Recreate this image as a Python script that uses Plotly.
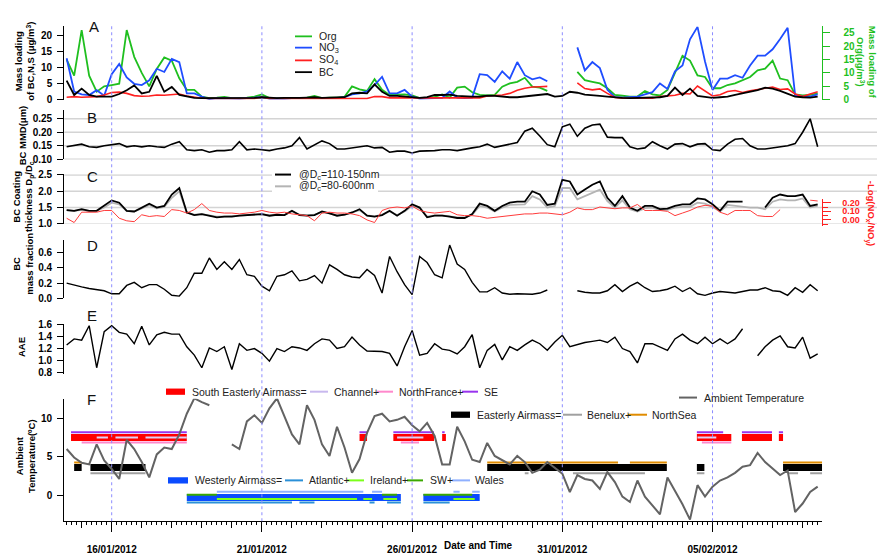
import pandas as pd
import plotly.graph_objects as go

# ---------------- data (6-hourly) ----------------
times = pd.date_range("2012-01-14 12:00", periods=101, freq="6h")

org = [15, 9, 26, 9, 3, 5, 5.5, 6, 26, 16,
       10, 5, 11.5, 15.8, 14.6, 8, 3.7, 3.7, 1.2, 0.6,
       0.8, 1.1, 0.6, 0.6, 0.8, 1.2, 2, 0.6, 0.6, 0.6,
       0.6, 0.8, 0.8, 1.4, 0.6, 0.8, 0.8, 1.1, 5, 3.9,
       3.3, 7.7, 3.7, 1.8, 1.8, 2, 1.6, 0.6, 0.6, 1.1,
       2, 0.8, 4.5, 4.9, 2.8, 1.8, 1.6, 1.8, 4.9, 6.1,
       6.7, 8.2, 4.9, 4.5, 3.3, None, None, None, 10.4, 7.3,
       6.7, 6.1, 4.3, 1.8, 1.5, 1.2, 1.2, 3.3, 2, 1.6,
       3.7, 10.4, 16.4, 14.6, 9.1, 8.5, 4.3, 4.3, 5.5, 6.1,
       7.3, 8.5, 11, 11.6, 14.6, 7.9, 7.3, 2, 1.6, 1.8,
       2.4]
no3 = [13, 2.6, 1.7, 1.5, 3, 1.3, 8, 11.2, 7, 5,
       4.6, 6.1, 9.7, 8.7, 12.8, 11.8, 2, 2, 1, 0.2,
       0.5, 0.4, 0.3, 0.4, 0.5, 0.6, 0.8, 0.4, 0.3, 0.4,
       0.5, 0.4, 0.5, 0.6, 0.5, 0.5, 0.5, 0.8, 1.7, 2,
       2.6, 4.6, 7.2, 2, 2, 3.1, 1, 0.4, 0.4, 0.6,
       0.6, 2.6, 0.7, 0.5, 0.7, 8, 7.7, 5.6, 8.9, 6.6,
       11.8, 7.7, 6.4, 7, 5.8, None, None, None, 16.4, 9.2,
       11.8, 9.9, 3.1, 0.8, 0.7, 0.9, 1, 1.7, 2.4, 5.1,
       3.4, 8.9, 10.7, 18.9, 22.8, 12, 3.1, 6.6, 6.6, 7.7,
       6.9, 10.7, 13.8, 13.8, 15.8, 19, 22.5, 1.5, 1, 1,
       1.7]
so4 = [0.8, 1.0, 0.8, 1.0, 1.0, 1.5, 2.3, 2.4, 2.0, 1.3,
       1.1, 1.2, 1.5, 1.4, 1.6, 1.8, 1.2, 0.8, 0.5, 0.4,
       0.4, 0.4, 0.4, 0.4, 0.4, 0.4, 0.8, 0.4, 0.4, 0.4,
       0.4, 0.4, 0.4, 0.4, 0.4, 0.4, 0.4, 0.4, 0.4, 0.4,
       0.4, 1.0, 1.0, 0.6, 0.6, 0.4, 0.4, 0.4, 0.4, 0.4,
       0.4, 0.4, 0.4, 0.4, 0.4, 0.6, 1.2, 1.4, 1.5, 2.0,
       3.0, 3.6, 4.0, 4.1, 4.2, None, None, None, 5.3, 3.5,
       3.1, 3.4, 2.0, 0.7, 0.5, 0.5, 0.5, 0.4, 0.5, 1.0,
       1.2, 1.4, 2.0, 1.8, 4.3, 2.8, 1.2, 1.6, 2.6, 2.9,
       2.3, 2.8, 3.2, 3.6, 4.0, 3.2, 3.4, 1.8, 1.0, 1.8,
       2.5]
bc = [6, 1.5, 3.5, 1.5, 1.0, 1.0, 1.0, 1.8, 3.0, 4.5,
      2.0, 2.5, 7.5, 2.5, 4.0, 1.5, 1.0, 0.6, 0.5, 0.5,
      0.7, 0.6, 0.5, 0.6, 0.7, 0.6, 0.8, 0.6, 0.5, 0.6,
      0.5, 0.6, 0.7, 0.8, 0.6, 0.6, 0.8, 0.8, 2.0, 2.2,
      2.0, 4.8, 2.5, 1.2, 1.2, 1.0, 0.7, 0.6, 0.8, 1.5,
      1.5, 1.6, 1.2, 1.0, 1.0, 1.0, 1.3, 1.2, 0.9, 0.8,
      0.8, 1.0, 1.3, 1.6, 1.8, 1.0, 1.2, 2.5, 2.2, 1.6,
      1.3, 1.2, 1.0, 0.7, 0.6, 0.5, 0.6, 0.6, 0.6, 0.8,
      1.2, 3.8, 1.5, 3.5, 1.2, 0.8, 0.6, 0.8, 1.0, 1.5,
      2.0, 2.5, 3.0, 3.8, 3.5, 2.8, 1.8, 1.0, 0.8, 0.7,
      1.0]
bc_mmd = [0.146, 0.150, 0.156, 0.146, 0.144, 0.150, 0.154, 0.158, 0.146, 0.150,
          0.146, 0.150, 0.146, 0.144, 0.156, 0.165, 0.135, 0.132, 0.135, 0.126,
          0.132, 0.132, 0.135, 0.165, 0.135, 0.138, 0.135, 0.132, 0.138, 0.142,
          0.150, 0.180, 0.138, 0.154, 0.168, 0.158, 0.138, 0.138, 0.142, 0.144,
          0.150, 0.142, 0.144, 0.126, 0.130, 0.130, 0.123, 0.130, 0.130, 0.132,
          0.135, 0.135, 0.132, 0.138, 0.142, 0.146, 0.156, 0.144, 0.150, 0.158,
          0.162, 0.204, 0.215, 0.186, 0.154, 0.146, 0.220, 0.230, 0.185, 0.215,
          0.227, 0.230, 0.182, 0.180, 0.180, 0.146, 0.138, 0.142, 0.165, 0.150,
          0.138, 0.156, 0.158, 0.146, 0.156, 0.158, 0.135, 0.132, 0.156, 0.174,
          0.177, 0.150, 0.138, 0.138, 0.142, 0.146, 0.150, 0.158, 0.200, 0.250,
          0.146]
coat_110_150 = [1.42, 1.40, 1.45, 1.40, 1.40, 1.55, 1.72, 1.65, 1.40, 1.38,
                1.50, 1.62, 1.50, 1.55, 1.90, 2.10, 1.35, 1.27, 1.30, 1.25,
                1.20, 1.22, 1.22, 1.25, 1.27, 1.28, 1.30, 1.25, 1.28, 1.27,
                1.40, 1.27, 1.25, 1.27, 1.38, 1.32, 1.25, 1.28, 1.35, 1.45,
                1.25, 1.22, 1.27, 1.40, 1.25, 1.40, 1.60, 1.50, 1.20, 1.25,
                1.25, 1.22, 1.18, 1.18, 1.30, 1.62, 1.55, 1.40, 1.55, 1.65,
                1.68, 1.68, 2.00, 1.90, 1.58, 1.62, 2.35, 2.30, 1.90, 2.05,
                2.20, 2.30, 1.80, 1.55, 1.85, 1.50, 1.40, 1.55, 1.55, 1.45,
                1.47, 1.55, 1.60, 1.60, 1.78, 1.75, 1.60, 1.40, 1.68, 1.68,
                1.68, None, None, 1.50, 1.80, 1.90, 1.85, 1.85, 1.90, 1.55,
                1.60]
coat_80_600 = [1.42, 1.40, 1.43, 1.40, 1.40, 1.50, 1.65, 1.60, 1.40, 1.38,
               1.47, 1.57, 1.48, 1.52, 1.80, 2.00, 1.35, 1.28, 1.30, 1.25,
               1.22, 1.23, 1.23, 1.25, 1.27, 1.28, 1.30, 1.26, 1.28, 1.27,
               1.38, 1.28, 1.26, 1.28, 1.36, 1.32, 1.26, 1.28, 1.34, 1.42,
               1.26, 1.23, 1.28, 1.38, 1.27, 1.38, 1.55, 1.48, 1.22, 1.26,
               1.26, 1.23, 1.20, 1.20, 1.28, 1.55, 1.50, 1.38, 1.50, 1.58,
               1.60, 1.60, 1.85, 1.75, 1.50, 1.55, 2.10, 2.10, 1.75, 1.85,
               1.95, 2.05, 1.70, 1.50, 1.72, 1.45, 1.38, 1.48, 1.50, 1.42,
               1.43, 1.50, 1.52, 1.52, 1.65, 1.62, 1.52, 1.38, 1.58, 1.55,
               1.52, 1.50, 1.50, 1.45, 1.68, 1.75, 1.72, 1.72, 1.78, 1.50,
               1.55]
neg_log_nox_noy = [0.02, -0.03, 0.09, 0.09, 0.09, 0.11, 0.11, 0.02, -0.01, -0.02,
                   0.06, 0.04, 0.05, 0.04, 0.12, 0.11, 0.08, 0.12, 0.19, 0.11,
                   0.09, 0.08, 0.08, 0.07, 0.08, 0.09, 0.11, 0.09, 0.08, 0.09,
                   0.07, 0.06, 0.05, -0.01, 0.08, 0.09, 0.08, 0.08, 0.07, 0.05,
                   0.00, -0.03, 0.11, 0.14, 0.15, 0.14, 0.16, 0.11, 0.09, 0.08,
                   0.09, 0.10, 0.06, 0.05, 0.05, 0.04, 0.02, 0.03, 0.04, 0.05,
                   0.06, 0.07, 0.07, 0.08, 0.08, 0.07, 0.06, 0.09, 0.14, 0.12,
                   0.12, 0.15, 0.14, 0.13, 0.14, 0.14, 0.18, 0.11, 0.11, 0.11,
                   0.10, 0.05, 0.08, 0.11, 0.15, 0.17, 0.16, 0.09, 0.06, 0.11,
                   0.11, 0.11, 0.05, 0.04, 0.04, 0.12, None, None, None, 0.23,
                   0.22]
bc_mass_fraction = [0.20, 0.17, 0.15, 0.13, 0.11, 0.10, 0.06, 0.06, 0.17, 0.21,
                    0.14, 0.18, 0.18, 0.12, 0.04, 0.03, 0.14, 0.33, 0.33, 0.53,
                    0.38, 0.48, 0.38, 0.51, 0.31, 0.29, 0.16, 0.10, 0.29, 0.31,
                    0.36, 0.23, 0.25, 0.30, 0.20, 0.44, 0.38, 0.31, 0.28, 0.27,
                    0.38, 0.30, 0.07, 0.55, 0.35, 0.18, 0.05, 0.55, 0.47, 0.31,
                    0.27, 0.70, 0.45, 0.38, 0.21, 0.085, 0.085, 0.14, 0.07, 0.055,
                    0.06, 0.06, 0.055, 0.07, 0.11, None, None, None, 0.10, 0.08,
                    0.07, 0.07, 0.10, 0.18, 0.09, 0.16, 0.21, 0.14, 0.09, 0.10,
                    0.12, 0.16, 0.09, 0.14, 0.06, 0.04, 0.07, 0.09, 0.08, 0.07,
                    0.09, 0.11, 0.11, 0.14, 0.10, 0.09, 0.04, 0.14, 0.08, 0.18,
                    0.10]
aae = [1.26, 1.36, 1.34, 1.58, 0.88, 1.48, 1.58, 1.47, 1.44, 1.28,
       1.57, 1.26, 1.43, 1.47, 1.44, 1.44, 1.23, 1.09, 0.88, 1.21,
       1.15, 1.23, 0.85, 1.28, 1.17, 1.20, 1.12, 0.99, 1.20, 1.15,
       1.23, 1.21, 1.17, 1.28, 1.36, 1.34, 1.20, 1.23, 1.39, 1.26,
       1.16, 1.16, 1.15, 1.12, 0.91, 1.23, 1.50, 1.09, 1.12, 1.28,
       1.19, 1.17, 1.11, 1.23, 1.43, 0.88, 1.17, 1.27, 1.01, 1.23,
       1.17, 1.26, 1.34, 1.28, 1.17, 1.31, 1.42, 1.23, 1.27, 1.30,
       1.32, 1.34, 1.30, 1.39, 1.20, 1.15, 0.96, 1.28, 1.28, 1.23,
       1.17, 1.36, 1.44, 1.34, 1.28, 1.39, 1.28, 1.36, 1.28, 1.36,
       1.53, None, 1.08, 1.23, 1.34, 1.41, 1.23, 1.21, 1.39, 1.04,
       1.11]
ambient_temp = [6.0, 4.9, 4.2, 4.0, 6.6, 4.5, 3.4, 2.1, 7.2, 6.0,
                4.3, 2.3, 5.3, 6.2, 6.0, 7.9, 10.6, 12.6, 12.1, 11.7,
                None, None, 6.6, 6.0, 9.6, 10.4, 9.4, 11.3, 12.6, 10.2,
                7.9, 6.6, 11.7, 9.8, 6.6, 5.1, 8.9, 6.2, 2.9, 4.7,
                8.1, 10.3, 10.6, 9.6, 9.8, 10.2, 9.1, 8.3, 9.4, 7.7,
                4.0, 4.0, 8.9, 7.0, 4.6, 4.3, 6.8, 5.1, 4.5, 4.0,
                5.1, 4.3, 2.9, 3.3, 4.3, 3.6, 2.8, 0.4, 2.6, 2.1,
                1.9, 0.8, 3.0, 1.7, -0.2, -0.9, 1.9, -0.2, -1.3, -2.5,
                2.3, 0.6, -1.2, -3.2, 1.3, -0.2, 1.1, 1.9, 2.3, 2.9,
                3.7, 3.9, 5.5, 4.3, 3.4, 2.6, 3.2, -2.2, -1.1, 0.4,
                1.1]

# air-mass classification periods (start, end)
se_airmass = [("2012-01-14 15:30", "2012-01-18 12:00"), ("2012-01-24 06:00", "2012-01-24 12:00"),
              ("2012-01-25 09:00", "2012-01-26 17:30"), ("2012-01-27 00:00", "2012-01-27 03:00"),
              ("2012-02-04 11:30", "2012-02-05 15:00"), ("2012-02-05 23:30", "2012-02-06 23:30"),
              ("2012-02-07 05:00", "2012-02-07 08:20")]
se_sector = [("2012-01-14 15:30", "2012-01-18 12:00"), ("2012-01-24 06:00", "2012-01-24 12:00"),
             ("2012-01-25 09:00", "2012-01-26 17:30"), ("2012-01-27 00:00", "2012-01-27 02:00"),
             ("2012-02-04 11:30", "2012-02-05 08:30"), ("2012-02-05 23:30", "2012-02-06 23:30"),
             ("2012-02-07 05:00", "2012-02-07 08:20")]
channel = [("2012-01-15 12:00", "2012-01-15 21:00"), ("2012-01-16 03:00", "2012-01-16 21:00"),
           ("2012-01-17 03:00", "2012-01-18 12:00"), ("2012-01-25 12:00", "2012-01-26 09:00"),
           ("2012-02-04 12:00", "2012-02-05 03:00")]
north_france = [("2012-01-15 00:00", "2012-01-18 12:00"), ("2012-01-25 15:00", "2012-01-26 05:30"),
                ("2012-02-04 15:30", "2012-02-05 15:00")]
easterly = [("2012-01-14 18:00", "2012-01-15 00:00"), ("2012-01-15 07:00", "2012-01-17 03:00"),
            ("2012-01-28 12:00", "2012-02-03 11:30"), ("2012-02-04 11:30", "2012-02-04 17:30"),
            ("2012-02-07 08:20", "2012-02-08 15:30")]
north_sea = [("2012-01-14 18:00", "2012-01-15 00:00"), ("2012-01-28 12:00", "2012-02-01 20:30"),
             ("2012-02-02 06:00", "2012-02-03 11:30"), ("2012-02-07 08:20", "2012-02-08 15:30")]
benelux = [("2012-01-15 07:00", "2012-01-17 03:00"), ("2012-01-29 18:00", "2012-01-29 21:00"),
           ("2012-01-31 08:30", "2012-02-02 18:00"), ("2012-02-04 11:30", "2012-02-04 17:30"),
           ("2012-02-07 12:20", "2012-02-07 20:20"), ("2012-02-08 06:00", "2012-02-08 15:30")]
westerly = [("2012-01-18 12:00", "2012-01-25 15:00"), ("2012-01-26 09:00", "2012-01-28 06:00")]
wales = [("2012-01-19 12:00", "2012-01-24 09:00"), ("2012-01-24 16:00", "2012-01-25 00:00"),
         ("2012-01-27 09:00", "2012-01-27 14:00"), ("2012-01-28 00:00", "2012-01-28 06:00")]
ireland = [("2012-01-19 12:00", "2012-01-24 04:00"), ("2012-01-24 09:00", "2012-01-24 16:00"),
           ("2012-01-25 01:00", "2012-01-25 12:00"), ("2012-01-27 09:00", "2012-01-28 02:00")]
south_west = [("2012-01-18 12:00", "2012-01-19 12:00"), ("2012-01-25 00:00", "2012-01-25 12:00"),
              ("2012-01-26 09:00", "2012-01-28 00:00")]
atlantic = [("2012-01-18 12:00", "2012-01-22 00:00"), ("2012-01-22 06:00", "2012-01-22 18:00"),
            ("2012-01-24 14:00", "2012-01-24 18:00"), ("2012-01-25 04:00", "2012-01-25 15:00"),
            ("2012-01-26 09:00", "2012-01-27 06:00")]

major_dates = ["2012-01-16", "2012-01-21", "2012-01-26", "2012-01-31", "2012-02-05"]
major_labels = ["16/01/2012", "21/01/2012", "26/01/2012", "31/01/2012", "05/02/2012"]

# ---------------- layout helpers ----------------
W, H = 880, 555
FONT = "Liberation Sans, Arial, Helvetica, sans-serif"


def px(x):
    return x / W


def py(y):
    return 1 - y / H


X0, X1 = 64.3, 822.3
XRANGE = ["2012-01-14 10:08", "2012-02-08 15:42"]
GREEN = "#1fbf1f"
RED = "#ff2020"

fig = go.Figure()


def add_series(y, axis, color, width):
    fig.add_trace(go.Scatter(x=times, y=y, mode="lines", xaxis="x", yaxis=axis,
                             line=dict(color=color, width=width), connectgaps=False,
                             showlegend=False, hoverinfo="skip"))


def add_periods(periods, level, color, width):
    xs, ys = [], []
    for a, b in periods:
        xs += [a, b, None]
        ys += [level, level, None]
    fig.add_trace(go.Scatter(x=xs, y=ys, mode="lines", xaxis="x", yaxis="y8",
                             line=dict(color=color, width=width), connectgaps=False,
                             showlegend=False, hoverinfo="skip"))


# Panel A
add_series(org, "y", GREEN, 1.8)
add_series(no3, "y2", "#1f4dff", 1.8)
add_series(so4, "y2", RED, 1.6)
add_series(bc, "y2", "black", 1.8)
# Panel B
add_series(bc_mmd, "y3", "black", 1.6)
# Panel C
add_series(coat_80_600, "y4", "#b4b4b4", 1.8)
add_series(coat_110_150, "y4", "black", 1.8)
add_series(neg_log_nox_noy, "y5", "#ff3a3a", 1.0)
# Panel D, E
add_series(bc_mass_fraction, "y6", "black", 1.4)
add_series(aae, "y7", "black", 1.4)
# Panel F air masses
add_periods(se_airmass, 7.5, "#ff0000", 7)
add_periods(se_sector, 8.2, "#9933ee", 2)
add_periods(channel, 7.5, "#e0d0f5", 2)
add_periods(north_france, 6.85, "#ff88cc", 2)
add_periods(easterly, 3.6, "black", 7)
add_periods(north_sea, 4.25, "#e08c00", 2)
add_periods(benelux, 2.85, "#a0a0a0", 2)
add_periods(westerly, -0.3, "#0a4bff", 7)
add_periods(wales, 0.45, "#8fb0ff", 2)
add_periods(south_west, 0.05, "#3aa800", 2)
add_periods(ireland, -0.5, "#7cff1a", 2)
add_periods(atlantic, -0.95, "#2a90d8", 2)
add_series(ambient_temp, "y8", "#636363", 2)
# helper (invisible) trace so the secondary daily-tick axis is drawn
fig.add_trace(go.Scatter(x=times[:1], y=[None], xaxis="x2", yaxis="y8",
                         showlegend=False, hoverinfo="skip"))

TICKFONT = dict(family=FONT, size=10, color="black", weight="bold")


def yax(dom, rng, tickvals, fmt=None, **kw):
    d = dict(domain=[py(dom[0]), py(dom[1])], range=rng, tickvals=tickvals,
             showline=True, linecolor="black", linewidth=1.2, ticks="outside",
             ticklen=6, tickwidth=1.2, tickcolor="black", showgrid=False,
             zeroline=False, tickfont=TICKFONT, anchor="x", fixedrange=True,
             ticklabelstandoff=3)
    if fmt:
        d["tickformat"] = fmt
    d.update(kw)
    return d


day_ticks = list(pd.date_range("2012-01-15", "2012-02-08", freq="D"))

layout = dict(
    width=W, height=H, margin=dict(l=0, r=0, t=0, b=0),
    paper_bgcolor="white", plot_bgcolor="rgba(0,0,0,0)",
    font=dict(family=FONT, size=10, color="black"),
    showlegend=False,
    xaxis=dict(domain=[px(X0), px(X1)], anchor="y8", type="date", range=XRANGE,
               tickvals=major_dates, ticktext=major_labels, ticks="outside",
               ticklen=10, tickwidth=1.2, tickcolor="black", showline=True,
               linecolor="black", linewidth=1.2, showgrid=False, zeroline=False,
               tickfont=TICKFONT, ticklabelstandoff=9, fixedrange=True,
               minor=dict(ticks="outside", ticklen=3, tickwidth=1, tickcolor="black",
                          dtick=4 * 3600 * 1000, tick0="2012-01-14 00:00")),
    xaxis2=dict(overlaying="x", anchor="y8", type="date", range=XRANGE,
                tickvals=day_ticks, ticks="outside", ticklen=6, tickwidth=1.2,
                tickcolor="black", showticklabels=False, showline=False,
                showgrid=False, zeroline=False, side="bottom", fixedrange=True),
    yaxis=yax((96.7, 21.7), [0, 27.4], [0, 5, 10, 15, 20, 25], side="right",
              linecolor=GREEN, tickcolor=GREEN, ticklen=7, ticklabelstandoff=11,
              tickfont=dict(family=FONT, size=10, color=GREEN, weight="bold")),
    yaxis2=yax((96.7, 21.7), [0, 23.0], [0, 5, 10, 15, 20], overlaying="y", side="left"),
    yaxis3=yax((157.5, 106.7), [0.0995, 0.284], [0.10, 0.15, 0.20, 0.25], ".2f"),
    yaxis4=yax((223.3, 172.7), [1.0, 2.52], [1.0, 1.5, 2.0, 2.5], ".1f"),
    yaxis5=yax((225.0, 198.3), [-0.065, 0.239], [0.0, 0.1, 0.2], ".2f",
               anchor="free", position=px(X1), side="right", linecolor=RED,
               tickcolor=RED, ticklen=8, ticklabelstandoff=9,
               tickfont=dict(family=FONT, size=9, color=RED, weight="bold"),
               minor=dict(ticks="outside", ticklen=5, tickcolor=RED, dtick=0.05, tick0=0)),
    yaxis6=yax((299.3, 239.3), [0, 0.772], [0, 0.2, 0.4, 0.6], ".1f"),
    yaxis7=yax((376.7, 325.0), [0.772, 1.616], [0.8, 1.0, 1.2, 1.4, 1.6], ".1f"),
    yaxis8=yax((526.7, 401.7), [-3.41, 12.55], [0, 5, 10]),
)
fig.update_layout(**layout)

shapes = []
# gridlines in B and C (extend to the right edge)
for v in [0.10, 0.15, 0.20, 0.25]:
    shapes.append(dict(type="line", xref="paper", yref="y3", x0=px(X0), x1=px(877),
                       y0=v, y1=v, line=dict(color="#d4d4d4", width=1.5), layer="below"))
for v in [1.0, 1.5, 2.0, 2.5]:
    shapes.append(dict(type="line", xref="paper", yref="y4", x0=px(X0), x1=px(877),
                       y0=v, y1=v, line=dict(color="#d4d4d4", width=1.5), layer="below"))
# vertical dotted date markers
for d in major_dates:
    shapes.append(dict(type="line", xref="x", yref="paper", x0=d, x1=d,
                       y0=py(526.7), y1=py(21.7),
                       line=dict(color="#8c8cff", width=1, dash="dot"), layer="above"))
# panel C legend background
shapes.append(dict(type="rect", xref="paper", yref="paper", x0=px(272), x1=px(378),
                   y0=py(192), y1=py(166), fillcolor="white", line=dict(width=0), layer="above"))


def leg_line(x0, x1, y, color, width=2):
    shapes.append(dict(type="line", xref="paper", yref="paper", x0=px(x0), x1=px(x1),
                       y0=py(y), y1=py(y), line=dict(color=color, width=width), layer="above"))


def leg_rect(x0, x1, y, color):
    shapes.append(dict(type="rect", xref="paper", yref="paper", x0=px(x0), x1=px(x1),
                       y0=py(y + 3.2), y1=py(y - 3.2), fillcolor=color,
                       line=dict(width=0), layer="above"))


annotations = []


def label(x, y, text, size=10.5, color="#222222", xanchor="left", angle=0, bold=False):
    if bold:
        text = "<b>" + text + "</b>"
    annotations.append(dict(x=px(x), y=py(y), xref="paper", yref="paper", text=text,
                            showarrow=False, xanchor=xanchor, yanchor="middle",
                            textangle=angle, font=dict(family=FONT, size=size, color=color)))


# Panel A legend
for yy, col, txt in [(32, GREEN, "Org"), (43.5, "#1f4dff", "NO<sub>3</sub>"),
                     (56.5, RED, "SO<sub>4</sub>"), (68.5, "black", "BC")]:
    leg_line(295, 312, yy, col, 1.8)
    label(317, yy, txt, size=10.5)
# Panel C legend
leg_line(275, 291, 173, "black", 2)
label(297, 173, "@D<sub>c</sub>=110-150nm", size=10.5)
leg_line(275, 291, 185, "#b4b4b4", 2)
label(297, 185, "@D<sub>c</sub>=80-600nm", size=10.5)
# Panel F legends
leg_rect(166, 185, 394.5, "#ff0000")
label(190, 394.5, "South Easterly Airmass=")
leg_line(310, 328, 394.5, "#c8b8ee")
label(332, 394.5, "Channel+")
leg_line(377, 393, 394.5, "#ff88cc")
label(397, 394.5, "NorthFrance+")
leg_line(462, 478, 394.5, "#9933ee")
label(482, 394.5, "SE")
leg_line(679, 697, 400.5, "#636363")
label(702, 400.5, "Ambient Temperature")
leg_rect(451, 470, 418, "black")
label(475, 418, "Easterly Airmass=")
leg_line(563, 582, 418, "#a0a0a0")
label(585, 418, "Benelux+")
leg_line(628, 647, 418, "#e08c00")
label(650, 418, "NorthSea")
leg_rect(168, 188, 485, "#0a4bff")
label(193, 485, "Westerly Airmass=")
leg_line(285, 303, 485, "#2a90d8")
label(307, 485, "Atlantic+")
leg_line(347, 364, 485, "#7cff1a")
label(368, 485, "Ireland+")
leg_line(407, 423, 485, "#3aa800")
label(428, 485, "SW+")
leg_line(452, 470, 485, "#8fb0ff")
label(473, 485, "Wales")

# panel letters
for lx, ly, t in [(94, 22, "A"), (92, 115, "B"), (92, 175, "C"), (92, 245, "D"),
                  (92, 317, "E"), (91, 402, "F")]:
    label(lx, ly, t, size=15, color="#111111", xanchor="center")

# axis titles
label(25, 58, "Mass loading<br>of BC,N,S (μg/m<sup>3</sup>)", size=9.5, color="black",
      xanchor="center", angle=-90, bold=True)
label(22, 133, "BC MMD(μm)", size=9.5, color="black", xanchor="center", angle=-90, bold=True)
label(23, 196, "BC Coating<br>thickness D<sub>p</sub>/D<sub>c</sub>", size=9.5, color="black",
      xanchor="center", angle=-90, bold=True)
label(23, 264, "BC<br>mass fraction", size=9.5, color="black", xanchor="center",
      angle=-90, bold=True)
label(21, 349, "AAE", size=9.5, color="black", xanchor="center", angle=-90, bold=True)
label(26, 460, "Ambient<br>Temperature(ºC)", size=9.5, color="black", xanchor="center",
      angle=-90, bold=True)
label(866, 58, "Mass loading of<br>Org(μg/m<sup>3</sup>)", size=9.5, color=GREEN,
      xanchor="center", angle=90, bold=True)
label(870, 212, "-Log(NO<sub>x</sub>/NO<sub>y</sub>)", size=9.5, color=RED,
      xanchor="center", angle=90, bold=True)
label(478, 551, "Date and Time", size=10, color="black", xanchor="center", bold=True)

fig.update_layout(shapes=shapes, annotations=annotations)

fig.write_html("out.html", config={"displayModeBar": False},
               post_script="document.body.style.margin='0';")
